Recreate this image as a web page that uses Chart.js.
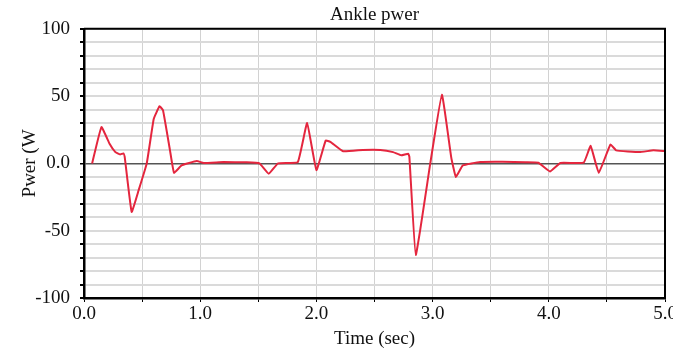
<!DOCTYPE html>
<html>
<head>
<meta charset="utf-8">
<script src="https://cdn.jsdelivr.net/npm/chart.js@4"></script>
<style>
  html, body { margin: 0; padding: 0; background: #fff; }
  #wrap { width: 673px; height: 351px; }
</style>
</head>
<body>
<div id="wrap"><canvas id="myChart" width="673" height="351"></canvas></div>
<script>
'use strict';

// values
let timeSec = [0.07, 0.15, 0.22, 0.27, 0.31, 0.34, 0.35, 0.41, 0.47, 0.54, 0.60, 0.65, 0.68, 0.74, 0.775,
  0.84, 0.97, 1.03, 1.20, 1.40, 1.51, 1.59, 1.67, 1.84, 1.92, 2.00, 2.08, 2.12, 2.23, 2.40, 2.55, 2.66,
  2.73, 2.79, 2.80, 2.855, 2.98, 3.08, 3.16, 3.20, 3.26, 3.41, 3.60, 3.80, 3.91, 4.01, 4.10, 4.30, 4.36,
  4.43, 4.53, 4.58, 4.78, 4.90, 5.00];
let powerW = [0, 27, 14.6, 8.4, 6.7, 7.4, 5, -36, -20, 0, 33, 42.4, 39.5, 9.7, -7,
  -1.5, 1.7, 0.3, 1, 0.8, 0, -7.7, 0, 1, 30, -5, 17, 16, 9, 10, 10, 8.4,
  6, 7.2, 5, -68, 0, 51, 4.7, -10, -1.5, 1, 1.2, 0.8, 0.5, -6, 0.3, 0.5, 13,
  -7, 14, 9.7, 8.4, 9.7, 9.2];

let yLabelValues = [100, 50, 0, -50, -100];
let yLabelText = ['100', '50', '0.0', '-50', '-100'];
let xLabelValues = [0, 1, 2, 3, 4, 5];
let xLabelText = ['0.0', '1.0', '2.0', '3.0', '4.0', '5.0'];

let points = [];
for (let i = 0; i < timeSec.length; i++) {
  points.push({x: timeSec[i], y: powerW[i]});
}

let serif = 'Liberation Serif, Times New Roman, serif';

let frameBox = {
  id: 'frameBox',
  afterDraw(chart) {
    let a = chart.chartArea;
    let ctx = chart.ctx;
    ctx.save();
    ctx.strokeStyle = '#000';
    ctx.lineWidth = 2;
    ctx.beginPath();
    ctx.moveTo(a.left, a.top);
    ctx.lineTo(a.right, a.top);
    ctx.lineTo(a.right, a.bottom);
    ctx.stroke();
    ctx.restore();
  }
};

let chardata = {
  type: 'line',
  data: {
    datasets: [{
      label: 'Ankle power',
      data: points,
      borderColor: 'rgb(228, 38, 62)',
      borderWidth: 2,
      pointRadius: 0,
      tension: 0.1,
      fill: false
    }]
  },
  options: {
    responsive: false,
    animation: false,
    layout: { padding: { left: 0, right: 8, top: 0, bottom: 0 } },
    plugins: {
      legend: { display: false },
      tooltip: { enabled: false },
      title: {
        display: true,
        text: 'Ankle pwer',
        fullSize: false,
        color: '#111',
        font: { family: serif, size: 19, weight: 'normal', lineHeight: 1.2 },
        padding: { top: 4, bottom: 2 }
      }
    },
    scales: {
      x: {
        type: 'linear',
        min: 0,
        max: 5,
        border: { color: '#000', width: 2.5 },
        grid: {
          color: '#d2d2d2',
          lineWidth: 1,
          tickLength: 4,
          tickColor: '#000'
        },
        ticks: {
          stepSize: 0.5,
          autoSkip: false,
          maxRotation: 0,
          padding: 1,
          color: '#111',
          font: { family: serif, size: 19 },
          callback: function (v) {
            let k = xLabelValues.indexOf(v);
            return k >= 0 ? xLabelText[k] : '';
          }
        },
        title: {
          display: true,
          text: 'Time (sec)',
          color: '#111',
          font: { family: serif, size: 19, lineHeight: 1.2 },
          padding: { top: 1, bottom: 1 }
        },
        afterFit: function (scale) {
          scale.height = 53;
          scale.paddingLeft = 0;
          scale.paddingRight = 0;
        }
      },
      y: {
        min: -100,
        max: 100,
        border: { color: '#000', width: 2.5 },
        grid: {
          color: function (c) { return c.tick && c.tick.value === 0 ? '#555' : '#dadada'; },
          lineWidth: function (c) { return c.tick && c.tick.value === 0 ? 1.5 : 2; },
          tickLength: 4,
          tickColor: '#000'
        },
        ticks: {
          stepSize: 10,
          autoSkip: false,
          padding: 10,
          color: '#111',
          font: { family: serif, size: 19 },
          callback: function (v) {
            let k = yLabelValues.indexOf(v);
            return k >= 0 ? yLabelText[k] : '';
          }
        },
        title: {
          display: true,
          text: 'Pwer (W',
          color: '#111',
          font: { family: serif, size: 19, lineHeight: 1.2 },
          padding: { top: 19, bottom: 19 }
        },
        afterFit: function (scale) {
          scale.width = 84;
        }
      }
    }
  },
  plugins: [frameBox]
};

let ctx = document.getElementById('myChart').getContext('2d');
let myChart = new Chart(ctx, chardata);
</script>
</body>
</html>
